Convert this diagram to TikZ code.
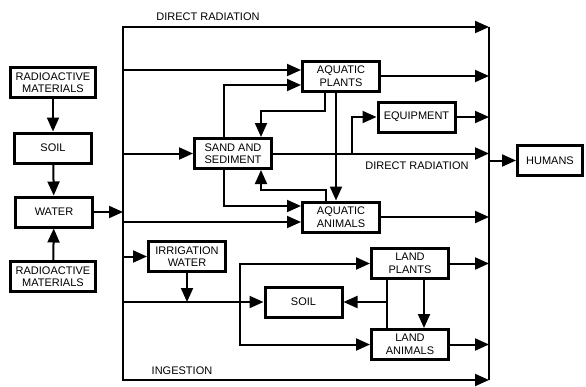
\documentclass[tikz,border=0pt]{standalone}
\usepackage{fontspec}
\setmainfont{Liberation Sans}
\usetikzlibrary{arrows.meta}

\begin{document}
\begin{tikzpicture}[x=1pt,y=-1pt,>={Triangle[length=14pt,width=12pt]},line width=2pt,
		box/.style={rectangle,draw,line width=3pt,minimum width=77pt,minimum height=30pt,
			inner sep=1pt,align=center,font=\fontsize{11}{12.5}\selectfont},
		lbl/.style={font=\fontsize{11}{12.5}\selectfont}]
	\useasboundingbox (0,0) rectangle (586,386);
	
	\node[box,minimum width=85pt] (rad1) at (53,82.5) {RADIOACTIVE\\MATERIALS};
	\node[box] (soil1) at (53,148) {SOIL};
	\node[box] (water) at (54,212) {WATER};
	\node[box,minimum width=85pt] (rad2) at (53,276.5) {RADIOACTIVE\\MATERIALS};
	\node[box] (aqplants) at (341,76) {AQUATIC\\PLANTS};
	\node[box] (equip) at (416.5,117) {EQUIPMENT};
	\node[box] (sand) at (233,153.5) {SAND AND\\SEDIMENT};
	\node[box] (aqanimals) at (341,217) {AQUATIC\\ANIMALS};
	\node[box,minimum width=65pt] (humans) at (550,160.5) {HUMANS};
	\node[box] (irrig) at (187,256.5) {IRRIGATION\\WATER};
	\node[box] (soil2) at (303.5,302) {SOIL};
	\node[box] (landplants) at (410,263.5) {LAND\\PLANTS};
	\node[box] (landanimals) at (410,344.5) {LAND\\ANIMALS};
	
	\node[lbl] (drtop) at (208,17) {DIRECT RADIATION};
	\node[lbl] (drmid) at (417,166) {DIRECT RADIATION};
	\node[lbl] (ing) at (182,371) {INGESTION};
	
	\coordinate (bT) at (123,27);
	\coordinate (bB) at (123,380);
	\coordinate (rT) at (489,27);
	\coordinate (rB) at (489,380);
	\coordinate (p1) at (123,70);
	\coordinate (p4) at (123,222);
	\coordinate (eqj) at (352,153.5);
	\coordinate (lj) at (240,302);
	\coordinate (sj) at (387,302);
	
	% bus lines
	\draw[->] (bB) -- (bT) -- (rT);
	\draw[->] (bT) -- (bB) -- (rB);
	\draw (rT) -- (rB);
	
	\draw[->] (rad1) -- (soil1);
	\draw[->] (soil1) -- (water);
	\draw[->] (rad2) -- (water);
	\draw[->] (water) -- (water -| bT);
	
	\draw[->] (p1) -- (p1 -| aqplants.west);
	\draw[->] ([xshift=-9pt]sand.north) |- ([yshift=-9pt]aqplants.west);
	\draw[->] (aqplants) -- (aqplants -| rT);
	\draw[->] ([xshift=-16pt]aqplants.south) -- ++(0,18) -| ([xshift=28pt]sand.north);
	\draw[->] ([xshift=-5pt]aqplants.south) -- ([xshift=-5pt]aqanimals.north);
	\draw[->] (sand -| bT) -- (sand);
	\draw[->] (sand) -- (sand -| rT);
	\draw[->] (eqj) |- (equip);
	\draw[->] (equip) -- (equip -| rT);
	\draw[->] ([xshift=-9pt]sand.south) |- ([yshift=11pt]aqanimals.west);
	\draw[->] ([xshift=-15pt]aqanimals.north) -- ++(0,-11) -| ([xshift=28pt]sand.south);
	\draw[->] (p4) -- (p4 -| aqanimals.west);
	\draw[->] (aqanimals) -- (aqanimals -| rT);
	
	\draw[->] (irrig -| bT) -- (irrig);
	\draw[->] (irrig) -- (irrig |- soil2);
	\draw[->] (soil2 -| bT) -- (soil2);
	\draw[->] (lj) |- (landplants);
	\draw[->] (lj) |- (landanimals);
	\draw[->] (landplants) -- (landplants -| rT);
	\draw[->] (landanimals) -- (landanimals -| rT);
	\draw[->] ([xshift=14pt]landplants.south) -- ([xshift=14pt]landanimals.north);
	\draw ([xshift=-23pt]landplants.south) -- ([xshift=-23pt]landanimals.north);
	\draw[->] (sj) -- (soil2);
	
	\draw[->] (rT |- humans) -- (humans);
\end{tikzpicture}
\end{document}
